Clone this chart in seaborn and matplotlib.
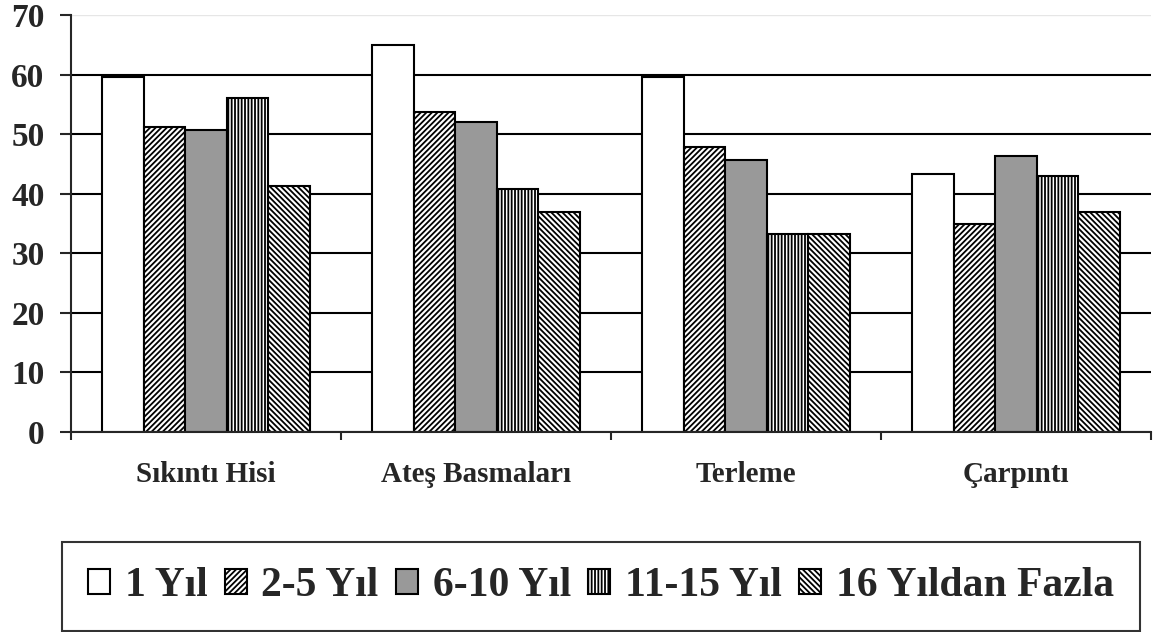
import pandas as pd
import numpy as np
import matplotlib
matplotlib.use('Agg')
import matplotlib.pyplot as plt
import seaborn as sns

# Data
semptomlar = ['Sıkıntı Hisi', 'Ateş Basmaları', 'Terleme', 'Çarpıntı']
sureler = ['1 Yıl', '2-5 Yıl', '6-10 Yıl', '11-15 Yıl', '16 Yıldan Fazla']
yil_1 = [59.6, 65.0, 59.6, 43.3]
yil_2_5 = [51.2, 53.7, 47.9, 34.9]
yil_6_10 = [50.7, 52.0, 45.6, 46.3]
yil_11_15 = [56.0, 40.8, 33.2, 43.0]
yil_16_plus = [41.3, 36.9, 33.2, 36.9]

rows = []
for sure, vals in zip(sureler, [yil_1, yil_2_5, yil_6_10, yil_11_15, yil_16_plus]):
    for s, v in zip(semptomlar, vals):
        rows.append({'semptom': s, 'sure': sure, 'oran': v})
df = pd.DataFrame(rows)

sns.set_style('white')
plt.rcParams['font.family'] = ['Liberation Serif', 'DejaVu Serif']
plt.rcParams['font.weight'] = 'bold'
plt.rcParams['hatch.linewidth'] = 1.3

fig = plt.figure(figsize=(11.53, 6.32), dpi=100)
ax = fig.add_axes([71 / 1153, 1 - 432 / 632, 1080 / 1153, 417 / 632])

fills = ['white', 'white', '#999999', 'white', 'white']
hatches = ['', '//////', '', '|||||', '\\\\\\\\\\\\']

sns.barplot(data=df, x='semptom', y='oran', hue='sure', hue_order=sureler,
            order=semptomlar, palette=fills, width=0.77, gap=0,
            edgecolor='black', linewidth=1.5, saturation=1, legend=False, ax=ax)

for cont, h in zip(ax.containers, hatches):
    for p in cont.patches:
        p.set_hatch(h)

ax.set_ylim(0, 70)
ax.set_xlim(-0.5, 3.5)
ax.set_yticks(range(0, 71, 10))
ax.set_xlabel('')
ax.set_ylabel('')
ax.set_axisbelow(True)
ax.yaxis.grid(True, color='black', linewidth=1.5)
ax.get_ygridlines()[-1].set_color('#e6e6e6')
ax.get_ygridlines()[-1].set_linewidth(1)

for side in ['top', 'right']:
    ax.spines[side].set_visible(False)
ax.spines['left'].set_linewidth(1.5)
ax.spines['bottom'].set_linewidth(1.5)

ax.tick_params(axis='y', direction='out', length=8, width=1.5, left=True,
               labelsize=24, pad=11)
ax.set_xticks(np.arange(-0.5, 4, 1), minor=True)
ax.tick_params(axis='x', which='minor', direction='out', length=6, width=1.5, bottom=True)
ax.tick_params(axis='x', which='major', length=0, labelsize=21, pad=21)
for lbl in ax.get_xticklabels() + ax.get_yticklabels():
    lbl.set_fontweight('bold')

leg = fig.legend(ax.containers, sureler, loc='center', ncol=5, mode='expand',
                 bbox_to_anchor=(62 / 1153, 1 - 631 / 632, 1078 / 1153, 89 / 632),
                 prop={'size': 30, 'weight': 'bold'}, frameon=True, fancybox=False,
                 handlelength=0.53, handleheight=0.53, handletextpad=0.35,
                 borderpad=0.62, borderaxespad=0)
leg.get_frame().set_edgecolor('black')
leg.get_frame().set_linewidth(1.5)

fig.savefig('out.png', dpi=100)
